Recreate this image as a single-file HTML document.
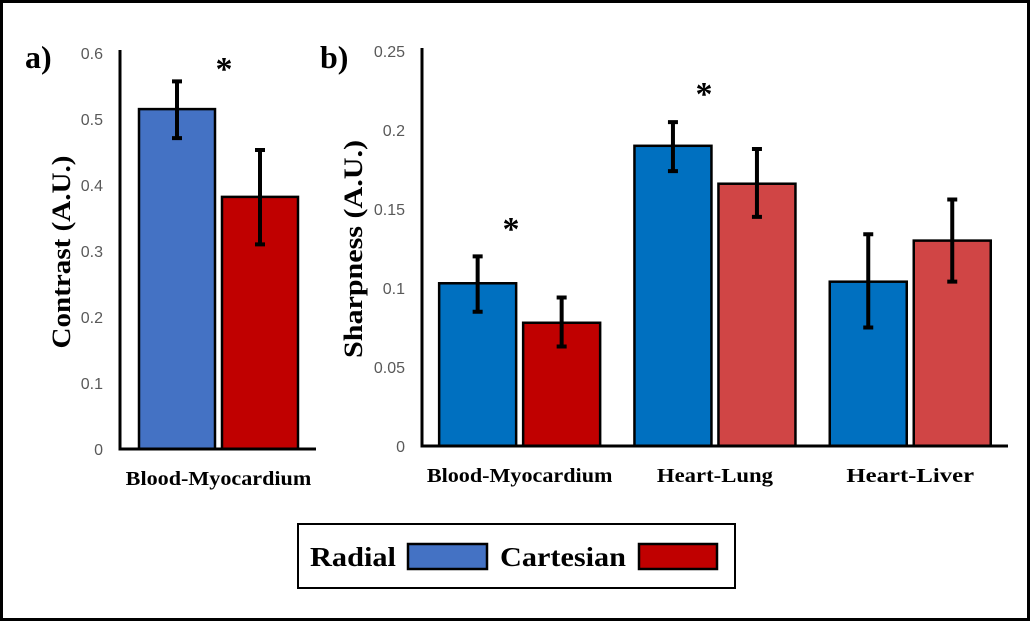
<!DOCTYPE html>
<html><head><meta charset="utf-8"><style>
html,body{margin:0;padding:0;background:#fff}
svg{display:block}
text{font-family:"Liberation Serif",serif}
.tick{font-family:"Liberation Sans",sans-serif;font-size:16px;fill:#595959}
</style></head><body>
<svg id="c" width="1030" height="621" viewBox="0 0 1030 621">
<rect x="1.5" y="1.5" width="1027" height="618" fill="#fff" stroke="#000" stroke-width="3"/>
<text x="25" y="68" font-size="32" font-weight="bold">a)</text>
<text x="320" y="68" font-size="32" font-weight="bold">b)</text>
<text transform="translate(70,252) rotate(-90)" text-anchor="middle" font-size="26" font-weight="bold" textLength="193" lengthAdjust="spacingAndGlyphs">Contrast (A.U.)</text>
<text transform="translate(362,249) rotate(-90)" text-anchor="middle" font-size="26" font-weight="bold" textLength="218" lengthAdjust="spacingAndGlyphs">Sharpness (A.U.)</text>
<g id="ga"></g><g id="gb"></g>
<g>
<rect x="298" y="524" width="437" height="64" fill="#fff" stroke="#000" stroke-width="2"/>
<text x="310" y="566" font-size="27" font-weight="bold" textLength="86" lengthAdjust="spacingAndGlyphs">Radial</text>
<rect x="408" y="544" width="79" height="25" fill="#4472C4" stroke="#000" stroke-width="2.5"/>
<text x="500" y="566" font-size="27" font-weight="bold" textLength="126" lengthAdjust="spacingAndGlyphs">Cartesian</text>
<rect x="639" y="544" width="78" height="25" fill="#C00000" stroke="#000" stroke-width="2.5"/>
</g>
</svg>
<script>
const aCats=["Blood-Myocardium"];
const aRadial=[0.515];const aRadialHi=[0.557];const aRadialLo=[0.471];
const aCart=[0.382];const aCartHi=[0.453];const aCartLo=[0.31];
const aTicks=["0","0.1","0.2","0.3","0.4","0.5","0.6"];
const bCats=["Blood-Myocardium","Heart-Lung","Heart-Liver"];
const bRadial=[0.103,0.190,0.104];const bRadialHi=[0.120,0.205,0.134];const bRadialLo=[0.085,0.174,0.075];
const bCart=[0.078,0.166,0.130];const bCartHi=[0.094,0.188,0.156];const bCartLo=[0.063,0.145,0.104];
const bTicks=["0","0.05","0.1","0.15","0.2","0.25"];
const NS="http://www.w3.org/2000/svg";
function mk(p,t,a){const e=document.createElementNS(NS,t);for(const k in a)e.setAttribute(k,a[k]);p.appendChild(e);return e;}
function panel(g,o){
  const y=v=>o.y0-(v/o.max)*(o.y0-o.yTop);
  o.ticks.forEach(t=>{const e=mk(g,'text',{x:o.tx,y:y(parseFloat(t))+6,'text-anchor':'end',class:'tick'});e.textContent=t;
    
    });
  o.cats.forEach((c,i)=>{
    const cx=o.x0+o.gw*(i+0.5);
    [[o.r,o.rh,o.rl,o.rc(i),-1,'radial'],[o.c,o.ch,o.cl,o.cc(i),1,'cartesian']].forEach(s=>{
      const v=s[0][i],bx=s[4]<0?cx-3.5-o.bw:cx+3.5;
      const r=mk(g,'rect',{x:bx,y:y(v),width:o.bw,height:o.y0-y(v),fill:s[3],stroke:'#000','stroke-width':2.5});
      
      
      const mx=bx+o.bw/2,hi=y(s[1][i]),lo=y(s[2][i]);
      const eb=mk(g,'path',{d:`M${mx} ${hi}V${lo}M${mx-5} ${hi}h10M${mx-5} ${lo}h10`,stroke:'#000','stroke-width':4,fill:'none'});
      
      
    });
    const l=mk(g,'text',{x:cx,y:o.y0+36,'text-anchor':'middle','font-size':20,'font-weight':'bold',textLength:c.length*11.6,lengthAdjust:'spacingAndGlyphs'});l.textContent=c;
    
    
  });
  const ax=mk(g,'path',{d:`M${o.x0} ${o.yTop-3}V${o.y0}H${o.xEnd}`,stroke:'#000','stroke-width':3,fill:'none'});
  
  
  o.stars.forEach(s=>{const t=mk(g,'text',{x:s[0],y:s[1],'text-anchor':'middle','font-size':34,'font-weight':'bold'});t.textContent='*';
    
    });
}
panel(document.getElementById('ga'),{y0:449,yTop:53,max:0.6,x0:120,xEnd:316,gw:197,bw:76,tx:103,ticks:aTicks,cats:aCats,
 r:aRadial,rh:aRadialHi,rl:aRadialLo,c:aCart,ch:aCartHi,cl:aCartLo,rc:()=>'#4472C4',cc:()=>'#C00000',stars:[[224,80]]});
panel(document.getElementById('gb'),{y0:446,yTop:51,max:0.25,x0:422,xEnd:1008,gw:195.3,bw:77,tx:405,ticks:bTicks,cats:bCats,
 r:bRadial,rh:bRadialHi,rl:bRadialLo,c:bCart,ch:bCartHi,cl:bCartLo,rc:()=>'#0070C0',cc:i=>i==0?'#C00000':'#D04545',stars:[[511,240],[704,105]]});
</script>
</body></html>
